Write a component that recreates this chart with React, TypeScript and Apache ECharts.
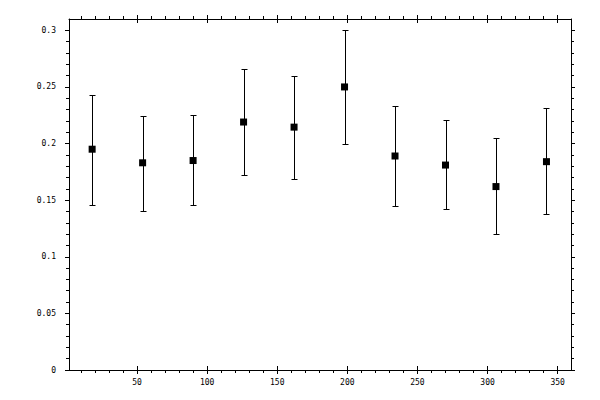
import React, { useEffect, useRef } from "react";
import * as echarts from "echarts";

// bin centres (degrees) and measured values with error limits
const xCenters = [18, 54, 90, 126, 162, 198, 234, 270, 306, 342];
const yValues = [0.195, 0.183, 0.185, 0.219, 0.2145, 0.25, 0.189, 0.181, 0.162, 0.184];
const yLow = [0.146, 0.14, 0.1455, 0.172, 0.1685, 0.1995, 0.1446, 0.142, 0.12, 0.1375];
const yHigh = [0.243, 0.224, 0.225, 0.266, 0.2595, 0.3005, 0.233, 0.2207, 0.2048, 0.2313];

// tick positions
const xMajor = [50, 100, 150, 200, 250, 300, 350];
const xMinor = [10, 20, 30, 40, 60, 70, 80, 90, 110, 120, 130, 140, 160, 170, 180, 190, 210, 220, 230, 240, 260, 270, 280, 290, 310, 320, 330, 340];
const yMajor = [0, 0.05, 0.1, 0.15, 0.2, 0.25, 0.3];
const yMinor = [0.01, 0.02, 0.03, 0.04, 0.06, 0.07, 0.08, 0.09, 0.11, 0.12, 0.13, 0.14, 0.16, 0.17, 0.18, 0.19, 0.21, 0.22, 0.23, 0.24, 0.26, 0.27, 0.28, 0.29];

const X_MIN = 1.5;
const X_MAX = 359.5;
const Y_MIN = 0;
const Y_MAX = 0.31;

const FONT = "DejaVu Sans Mono";
const black = "#000";

const xAxisBase = (position: "top" | "bottom", ticks: number[], len: number, inside: boolean, showLine: boolean, showLabel: boolean) => ({
    type: "value" as const,
    position,
    min: X_MIN,
    max: X_MAX,
    splitLine: { show: false },
    axisLine: { show: showLine, onZero: false, lineStyle: { color: black, width: 1 } },
    axisTick: { show: true, customValues: ticks, length: len, inside, lineStyle: { color: black, width: 1 } },
    axisLabel: showLabel
        ? { show: true, customValues: xMajor, color: black, fontFamily: FONT, fontSize: 8, margin: 8 }
        : { show: false },
});

const yAxisBase = (position: "left" | "right", ticks: number[], len: number, showLine: boolean, showLabel: boolean) => ({
    type: "value" as const,
    position,
    min: Y_MIN,
    max: Y_MAX,
    splitLine: { show: false },
    axisLine: { show: showLine, onZero: false, lineStyle: { color: black, width: 1 } },
    axisTick: { show: true, customValues: ticks, length: len, inside: false, lineStyle: { color: black, width: 1 } },
    axisLabel: showLabel
        ? { show: true, customValues: yMajor, color: black, fontFamily: FONT, fontSize: 8, margin: 13 }
        : { show: false },
});

export default function App() {
    const chartRef = useRef<HTMLDivElement>(null);

    useEffect(() => {
        const chart = echarts.init(chartRef.current!, null, { renderer: "svg" });

        const option = {
            animation: false,
            backgroundColor: "#fff",
            grid: { left: 69, right: 29, top: 19, bottom: 30 },
            xAxis: [
                xAxisBase("bottom", xMajor, 4, false, true, true),
                xAxisBase("bottom", xMajor, 4, true, false, false),
                xAxisBase("bottom", xMinor, 3, false, false, false),
                xAxisBase("top", xMajor, 4, false, true, false),
                xAxisBase("top", xMajor, 4, true, false, false),
                xAxisBase("top", xMinor, 3, false, false, false),
            ],
            yAxis: [
                yAxisBase("left", yMajor, 4, true, true),
                yAxisBase("left", yMinor, 3, false, false),
                yAxisBase("right", yMajor, 4, true, false),
                yAxisBase("right", yMinor, 3, false, false),
            ],
            series: [
                {
                    type: "custom",
                    xAxisIndex: 0,
                    yAxisIndex: 0,
                    data: xCenters.map((x, i) => [x, yLow[i], yHigh[i]]),
                    renderItem: (_params: any, api: any) => {
                        const x = api.value(0);
                        const lo = api.coord([x, api.value(1)]);
                        const hi = api.coord([x, api.value(2)]);
                        // snap to pixel centres so the 1px lines stay crisp
                        const px = Math.round(lo[0]) + 0.5;
                        const yLo = Math.round(lo[1]) + 0.5;
                        const yHi = Math.round(hi[1]) + 0.5;
                        const hw = 3;
                        const style = { stroke: black, lineWidth: 1 };
                        return {
                            type: "group",
                            children: [
                                { type: "line", shape: { x1: px, y1: yLo, x2: px, y2: yHi }, style },
                                { type: "line", shape: { x1: px - hw, y1: yHi, x2: px + hw, y2: yHi }, style },
                                { type: "line", shape: { x1: px - hw, y1: yLo, x2: px + hw, y2: yLo }, style },
                            ],
                        };
                    },
                    z: 2,
                },
                {
                    type: "scatter",
                    xAxisIndex: 0,
                    yAxisIndex: 0,
                    symbol: "rect",
                    symbolSize: 7,
                    itemStyle: { color: black, opacity: 1 },
                    data: xCenters.map((x, i) => [x, yValues[i]]),
                    z: 3,
                },
            ],
        };

        chart.setOption(option as any);

        return () => {
            chart.dispose();
        };
    }, []);

    return (
        <div
            ref={chartRef}
            style={{ position: "fixed", left: 0, top: 0, width: "600px", height: "400px" }}
        />
    );
}
